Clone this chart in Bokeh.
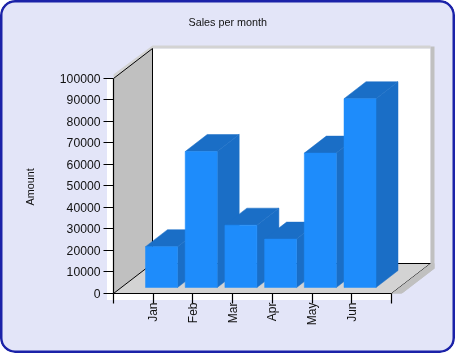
import math
from bokeh.embed import file_html
from bokeh.models import FixedTicker, NumeralTickFormatter, PolyAnnotation, Range1d, Title
from bokeh.plotting import figure
from bokeh.resources import INLINE

months = ["Jan", "Feb", "Mar", "Apr", "May", "Jun"]
amounts = [19000, 63250, 29000, 22500, 62500, 87800]
y_ticks = [0, 10000, 20000, 30000, 40000, 50000, 60000, 70000, 80000, 90000, 100000]

FONT = "Liberation Sans"
TEXT = "#111111"
X0, X_UNIT = 113.0, 39.7      # screen x of index 0, px per category
Y0, Y_UNIT = 293.0, 465.1     # screen y of amount 0, amount per px
FRAME_L, FRAME_R, FRAME_T = 113, 435, 44
LAV, WALL, FLOOR = "#E3E5F8", "#C0C0C0", "#D3D3D3"


def X(px):
    return (px - X0) / X_UNIT


def Y(py):
    return (Y0 - py) * Y_UNIT


p = figure(width=455, height=353, output_backend="svg", toolbar_location=None,
           x_range=Range1d(X(FRAME_L), X(FRAME_R)), y_range=Range1d(0, Y(FRAME_T)),
           frame_width=FRAME_R - FRAME_L, frame_height=int(Y0) - FRAME_T,
           min_border_left=FRAME_L, min_border_right=455 - FRAME_R,
           min_border_top=FRAME_T, min_border_bottom=353 - int(Y0),
           background_fill_color=None, border_fill_color=None, outline_line_color=None)
white = "linear-gradient(#FFFFFF,#FFFFFF)"
p.styles = {"position": "fixed", "left": "0px", "top": "0px",
            "background": f"{white} 107px 78px/6px 222px no-repeat, {white} 107px 293px/284px 7px no-repeat, {LAV}",
            "border-radius": "15px", "box-shadow": "inset 0 0 0 2.5px #1B22A8"}
p.grid.visible = False
p.title = Title(text="Sales per month", align="left", offset=75, standoff=29, vertical_align="top", text_font=FONT,
                text_font_size="10.8px", text_font_style="normal", text_color=TEXT)
p.add_layout(Title(text="Amount", align="left", offset=88, standoff=41, text_font=FONT,
                   text_font_size="10.8px", text_font_style="normal", text_color=TEXT), "left")


def poly(pts, fill, line=None, level="underlay"):
    p.add_layout(PolyAnnotation(xs=[X(a) for a, _ in pts], ys=[Y(b) for _, b in pts],
                                fill_color=fill, fill_alpha=1, line_color=line,
                                line_alpha=1 if line else 0, level=level))


def rect(l, r, t, b):
    return [(l, t), (r, t), (r, b), (l, b)]


# The part of the floor edge below the frame is painted as a guide, under the axes
poly([(391, 293), (430, 263), (434, 263), (434, 268), (391, 301)], WALL, level="guide")

# Inside the frame
poly(rect(113, 391, 78, 293), "#FFFFFF")
poly(rect(152, 430, 48, 263), "#FFFFFF")
poly([(110, 76), (152, 45), (430, 45), (430, 48), (152, 48), (113, 78)], FLOOR)
poly([(430, 46), (434, 46), (434, 268), (391, 301), (391, 293), (430, 263)], WALL)
poly([(113, 293), (152, 263), (430, 263), (391, 293)], FLOOR)
poly([(113, 78), (152, 48), (152, 263), (113, 293)], WALL)
for a, b in [((113, 78), (152, 48)), ((152, 48), (152, 263)), ((113, 293), (152, 263)),
             ((152, 263), (430, 263)), ((391, 293), (430, 263))]:
    poly([a, b], None, "#000000")

# Bars, painted left to right so each one covers the previous bar's side
BAR_W = 32 / X_UNIT
BAR_SHIFT = -7.7 / X_UNIT
DEPTH_X = 22 / X_UNIT
DEPTH_Y = 17 * Y_UNIT
BASE = 6 * Y_UNIT
FRONT, SHADE = "#1E8CFB", "#1A6EC6"
xs, ys, colors = [], [], []
for i, v in enumerate(amounts):
    l = i + 1 + BAR_SHIFT
    r = l + BAR_W
    t = BASE + v
    xs += [[r, r + DEPTH_X, r + DEPTH_X, r], [l, l + DEPTH_X, r + DEPTH_X, r], [l, r, r, l]]
    ys += [[BASE, BASE + DEPTH_Y, t + DEPTH_Y, t], [t, t + DEPTH_Y, t + DEPTH_Y, t], [BASE, BASE, t, t]]
    colors += [SHADE, SHADE, FRONT]
p.patches(xs, ys, fill_color=colors, line_color=colors, line_width=0.5)

# Axes
xa, ya = p.xaxis[0], p.yaxis[0]
xa.ticker = FixedTicker(ticks=list(range(len(months) + 2)))
xa.major_label_overrides = {0: "", **{i + 1: m for i, m in enumerate(months)}, len(months) + 1: ""}
xa.major_label_orientation = math.pi / 2
xa.major_label_standoff = -1
xa.bounds = (0, len(months) + 1)
ya.ticker = FixedTicker(ticks=y_ticks)
ya.formatter = NumeralTickFormatter(format="0")
ya.major_label_standoff = 3
ya.bounds = (0, 100000)
for ax, size in ((xa, "12px"), (ya, "12.2px")):
    ax.level = "annotation"
    ax.axis_line_color = "#000000"
    ax.axis_line_width = 1.2
    ax.major_tick_line_color = "#000000"
    ax.major_tick_line_width = 1.2
    ax.major_tick_in = 0
    ax.major_tick_out = 10
    ax.minor_tick_line_color = None
    ax.major_label_text_font = FONT
    ax.major_label_text_font_size = size
    ax.major_label_text_color = TEXT

open("out.html", "w").write(file_html(p, INLINE))
